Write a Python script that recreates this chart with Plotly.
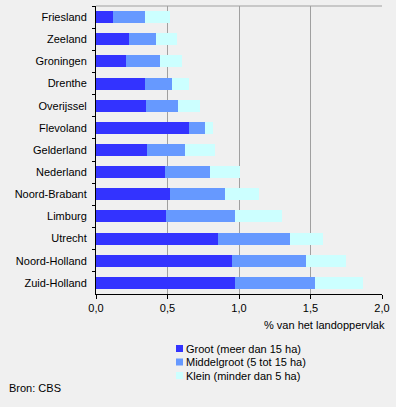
import plotly.graph_objects as go

regions = ["Friesland", "Zeeland", "Groningen", "Drenthe", "Overijssel", "Flevoland",
           "Gelderland", "Nederland", "Noord-Brabant", "Limburg", "Utrecht",
           "Noord-Holland", "Zuid-Holland"]
groot = [0.12, 0.23, 0.21, 0.34, 0.35, 0.65, 0.355, 0.48, 0.52, 0.49, 0.85, 0.95, 0.97]
middel = [0.22, 0.19, 0.24, 0.19, 0.22, 0.11, 0.27, 0.32, 0.38, 0.48, 0.51, 0.52, 0.56]
klein = [0.18, 0.145, 0.15, 0.12, 0.16, 0.06, 0.21, 0.21, 0.24, 0.33, 0.23, 0.28, 0.34]
series_names = ["Groot (meer dan 15 ha)", "Middelgroot (5 tot 15 ha)", "Klein (minder dan 5 ha)"]
colors = ["#3333ff", "#6699ff", "#ccffff"]
xticks = [0, 0.5, 1.0, 1.5, 2.0]

W, H = 396, 407
L, R, T, B = 96, 14, 6, 113
font = "Liberation Sans, Arial, sans-serif"
fig = go.Figure()
for name, vals, col in zip(series_names, [groot, middel, klein], colors):
    fig.add_trace(go.Bar(y=regions, x=vals, name=name, orientation="h",
                         marker=dict(color=col, line=dict(width=0))))

pw, ph = W - L - R, H - T - B
def px(x):
    return (x - L) / pw
def py(y):
    return (H - B - y) / ph

annotations = [
    dict(text="% van het landoppervlak", xref="paper", yref="paper", x=px(387), y=py(325),
         xanchor="right", yanchor="middle", showarrow=False, font=dict(size=11)),
    dict(text="Bron: CBS", xref="paper", yref="paper", x=px(7), y=py(388),
         xanchor="left", yanchor="middle", showarrow=False, font=dict(size=11)),
]
shapes = [
    dict(type="line", xref="paper", yref="paper", x0=0, x1=1, y0=1, y1=1,
         line=dict(color="#a0a0a0", width=1)),
]
for i, (name, col) in enumerate(zip(series_names, colors)):
    cy = 348.5 + i * 13.5
    shapes.append(dict(type="rect", xref="paper", yref="paper",
                       x0=px(176), x1=px(183), y0=py(cy - 3.5), y1=py(cy + 3.5),
                       fillcolor=col, line=dict(width=0)))
    annotations.append(dict(text=name, xref="paper", yref="paper", x=px(184), y=py(cy),
                            xanchor="left", yanchor="middle", showarrow=False,
                            font=dict(size=11)))

fig.update_layout(
    barmode="stack",
    bargap=0.46,
    width=W, height=H,
    margin=dict(l=L, r=R, t=T, b=B, autoexpand=False),
    paper_bgcolor="#f0f0f0", plot_bgcolor="#f0f0f0",
    font=dict(family=font, size=11, color="#000000"),
    separators=",.",
    showlegend=False,
    xaxis=dict(range=[0, 2.0], tickvals=xticks, tickformat=".1f",
               showgrid=True, gridcolor="#a0a0a0", gridwidth=1,
               showline=True, linecolor="#000000", linewidth=1,
               ticks="outside", ticklen=4, tickcolor="#000000",
               zeroline=False, mirror=False, fixedrange=True, automargin=False),
    yaxis=dict(autorange="reversed", showline=True, linecolor="#000000", linewidth=1,
               ticks="outside", tickson="boundaries", ticklen=3, tickcolor="#000000",
               showgrid=False, ticklabelstandoff=6, fixedrange=True, automargin=False),
    annotations=annotations,
    shapes=shapes,
)
fig.write_html("out.html", config={"displayModeBar": False},
               post_script="document.body.style.margin='0';document.body.style.background='#f0f0f0';")
